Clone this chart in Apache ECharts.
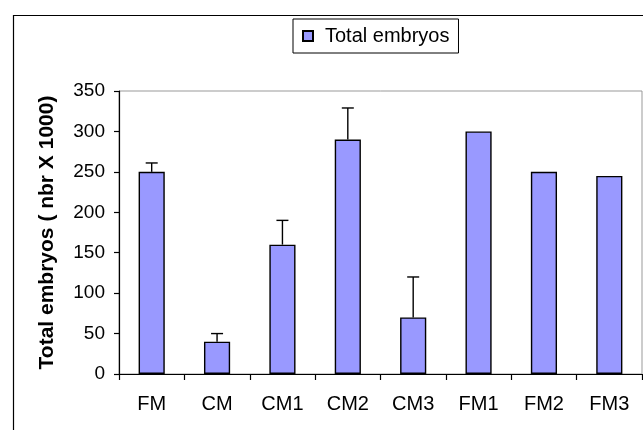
<!DOCTYPE html>
<html>
<head>
<meta charset="utf-8">
<script src="https://cdn.jsdelivr.net/npm/echarts@6/dist/echarts.min.js"></script>
<style>html,body{margin:0;padding:0;background:#fff}#c{width:643px;height:430px}</style>
</head>
<body>
<div id="c"></div>
<script>
const categories = ['FM', 'CM', 'CM1', 'CM2', 'CM3', 'FM1', 'FM2', 'FM3'];
const totalEmbryos = [250, 40, 160, 290, 70, 300, 250, 245];
const errorPlus = [11, 10, 30, 39, 50, 0, 0, 0];
const yTicks = [0, 50, 100, 150, 200, 250, 300, 350];
const seriesName = 'Total embryos';
const yTitle = 'Total embryos ( nbr X 1000)';

const FONT = '"Liberation Sans", Arial, sans-serif';
const chart = echarts.init(document.getElementById('c'), null, {renderer: 'canvas'});

const errData = categories.map((c, i) => [i, totalEmbryos[i], totalEmbryos[i] + errorPlus[i]])
  .filter((d, i) => errorPlus[i] > 0);

chart.setOption({
  animation: false,
  backgroundColor: '#fff',
  textStyle: {fontFamily: FONT},
  graphic: [{
    type: 'rect', left: 11, top: 13, silent: true, z: -10,
    shape: {width: 800, height: 500},
    style: {fill: 'none', stroke: '#000', lineWidth: 1.2}
  }],
  legend: {
    data: [seriesName],
    left: 293, top: 19,
    padding: [7, 9, 7, 9],
    backgroundColor: '#fff',
    borderColor: '#000', borderWidth: 1,
    borderRadius: 0,
    itemWidth: 10, itemHeight: 10,
    icon: 'rect',
    textStyle: {fontFamily: FONT, fontSize: 20, color: '#000', padding: [0, 0, 0, 7]}
  },
  grid: {left: 119, right: 1, top: 91, bottom: 56, show: true, borderColor: '#999', borderWidth: 1, containLabel: false},
  xAxis: {
    type: 'category',
    data: categories,
    axisLine: {lineStyle: {color: '#000', width: 1.2}},
    axisTick: {show: true, length: 6, lineStyle: {color: '#000', width: 1.2}},
    axisLabel: {fontFamily: FONT, fontSize: 20, color: '#000', margin: 20}
  },
  yAxis: {
    type: 'value',
    min: yTicks[0], max: yTicks[yTicks.length - 1], interval: 50,
    name: yTitle,
    nameLocation: 'middle',
    nameGap: 61,
    nameRotate: 90,
    nameTextStyle: {fontFamily: FONT, fontSize: 21, fontWeight: 'bold', color: '#000'},
    axisLine: {show: true, lineStyle: {color: '#000', width: 1.2}},
    axisTick: {show: true, length: 5, lineStyle: {color: '#000', width: 1.2}},
    splitLine: {show: false},
    axisLabel: {fontFamily: FONT, fontSize: 19, color: '#000', margin: 14}
  },
  series: [{
    name: seriesName,
    type: 'bar',
    data: totalEmbryos,
    barCategoryGap: '60%',
    itemStyle: {color: '#9999FF', borderColor: '#000', borderWidth: 1.4}
  }, {
    name: 'err',
    type: 'custom',
    data: errData,
    z: 5,
    renderItem: function (params, api) {
      const x = api.value(0);
      const p0 = api.coord([x, api.value(1)]);
      const p1 = api.coord([x, api.value(2)]);
      const cap = 6;
      return {
        type: 'group',
        children: [
          {type: 'line', shape: {x1: p0[0], y1: p0[1], x2: p1[0], y2: p1[1]}, style: {stroke: '#000', lineWidth: 1.4}},
          {type: 'line', shape: {x1: p1[0] - cap, y1: p1[1], x2: p1[0] + cap, y2: p1[1]}, style: {stroke: '#000', lineWidth: 1.4}}
        ]
      };
    }
  }]
});
</script>
</body>
</html>
